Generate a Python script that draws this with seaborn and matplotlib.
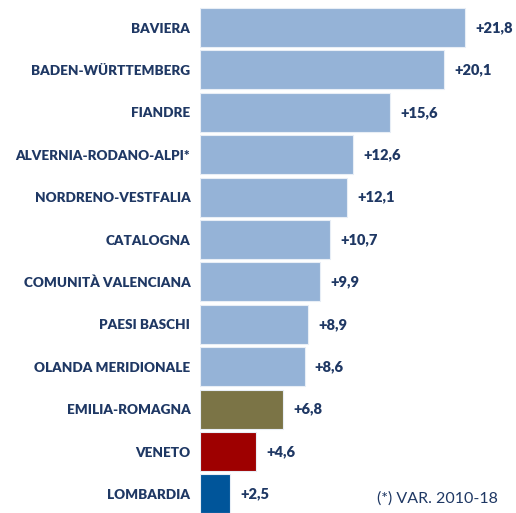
import matplotlib
matplotlib.use("Agg")
import matplotlib.pyplot as plt
import seaborn as sns
import pandas as pd

regions = ["BAVIERA", "BADEN-WÜRTTEMBERG", "FIANDRE", "ALVERNIA-RODANO-ALPI*",
           "NORDRENO-VESTFALIA", "CATALOGNA", "COMUNITÀ VALENCIANA", "PAESI BASCHI",
           "OLANDA MERIDIONALE", "EMILIA-ROMAGNA", "VENETO", "LOMBARDIA"]
values = [21.8, 20.1, 15.6, 12.6, 12.1, 10.7, 9.9, 8.9, 8.6, 6.8, 4.6, 2.5]
labels = ["+21,8", "+20,1", "+15,6", "+12,6", "+12,1", "+10,7", "+9,9", "+8,9",
          "+8,6", "+6,8", "+4,6", "+2,5"]
colors = ["#95B3D7"] * 9 + ["#7B7446", "#9E0000", "#00559A"]

navy = "#1F3864"
df = pd.DataFrame({"region": regions, "value": values})

sns.set_style("white")
plt.rcParams['font.family'] = ['Lato', 'DejaVu Sans']

fig = plt.figure(figsize=(5.16, 5.13), dpi=100)
ax = fig.add_axes([0.3876, 0, 0.6124, 1])
sns.barplot(data=df, x="value", y="region", hue="region", palette=colors,
            legend=False, width=0.92, edgecolor="#E8EEF6", linewidth=0.8,
            saturation=1, ax=ax)

for i, (v, t) in enumerate(zip(values, labels)):
    ax.text(v + 0.85, i, t, va="center", ha="left", fontsize=10.5,
            fontweight="heavy", color=navy)

ax.set_xlim(0, 26)
ax.set_ylim(11.45, -0.65)
ax.set_xlabel("")
ax.set_ylabel("")
ax.set_xticks([])
for s in ax.spines.values():
    s.set_visible(False)
ax.tick_params(axis="y", length=0, pad=7)
for lab in ax.get_yticklabels():
    lab.set_fontweight("heavy")
    lab.set_fontsize(9.7)
    lab.set_color(navy)

fig.text(0.965, 0.029, "(*) VAR. 2010-18", ha="right", va="center",
         fontsize=11.5, color=navy)

fig.savefig("out.png", dpi=100)
